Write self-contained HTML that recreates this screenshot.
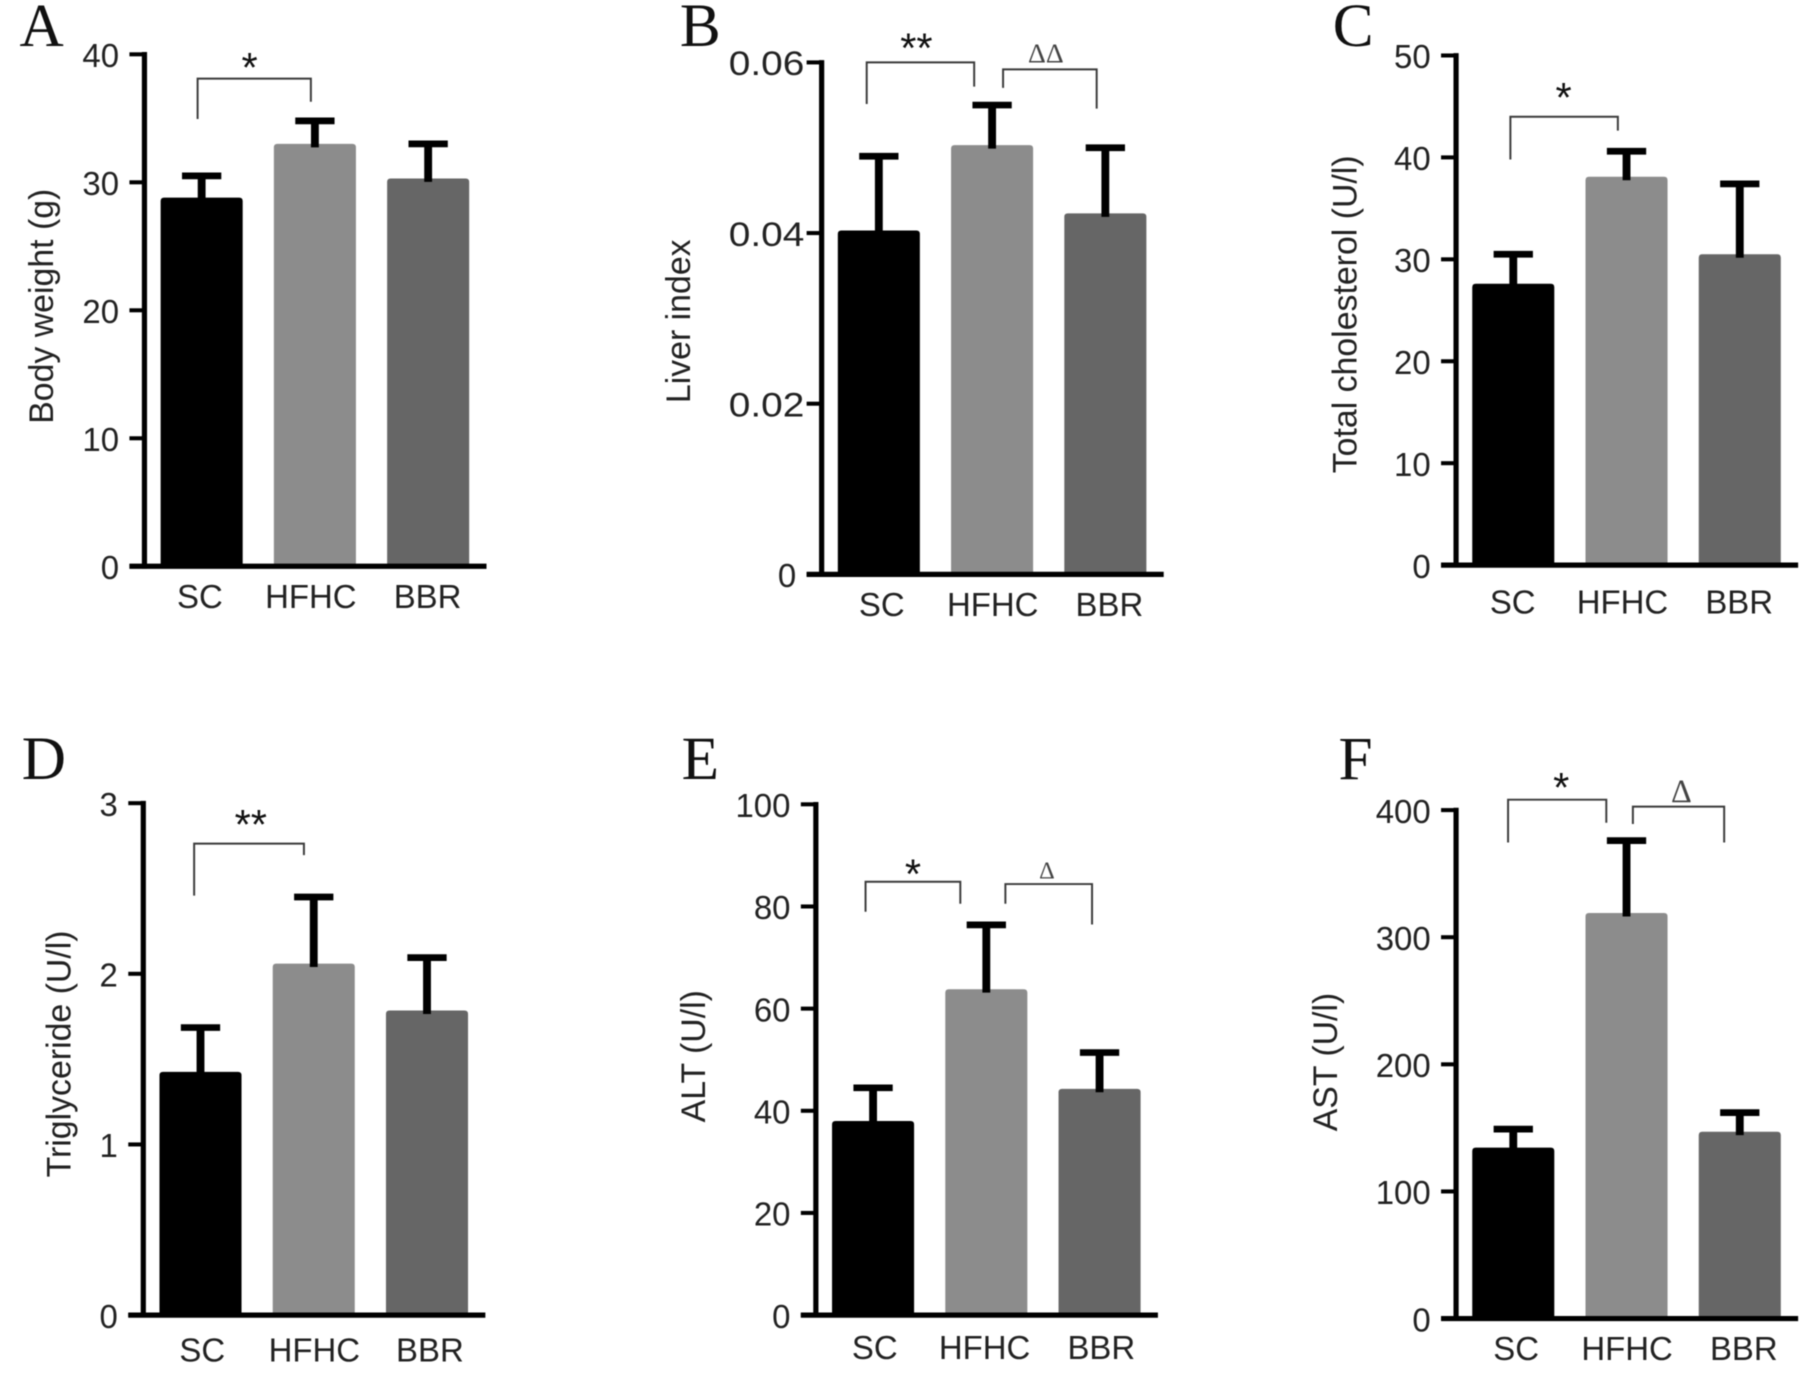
<!DOCTYPE html>
<html lang="en">
<head>
<meta charset="utf-8">
<title>Body weight, liver index and serum lipid and enzyme bar charts</title>
<style>
html,body{margin:0;padding:0;background:#fff;width:1812px;height:1373px;overflow:hidden}
svg{display:block;filter:blur(0.55px)}
text{font-family:"Liberation Sans",Arial,sans-serif;fill:#222}
.letter{font-family:"Liberation Serif","Times New Roman",serif;fill:#111}
</style>
</head>
<body>
<svg id="figure" xmlns="http://www.w3.org/2000/svg" width="1812" height="1373" viewBox="0 0 1568 1188.1"></svg>
<script>
const categories = ["SC", "HFHC", "BBR"];

const weightValues = [28.8, 33.0, 30.3];
const weightErrors = [1.7, 1.8, 2.7];
const weightTicks = [0, 10, 20, 30, 40];
const weightTickLabels = ["0", "10", "20", "30", "40"];

const liverValues = [0.0403, 0.0503, 0.0423];
const liverErrors = [0.0087, 0.0047, 0.0077];
const liverTicks = [0, 0.02, 0.04, 0.06];
const liverTickLabels = ["0", "0.02", "0.04", "0.06"];

const cholesterolValues = [27.6, 38.1, 30.5];
const cholesterolErrors = [2.9, 2.5, 6.9];
const cholesterolTicks = [0, 10, 20, 30, 40, 50];
const cholesterolTickLabels = ["0", "10", "20", "30", "40", "50"];

const triglycerideValues = [1.425, 2.06, 1.785];
const triglycerideErrors = [0.26, 0.39, 0.31];
const triglycerideTicks = [0, 1, 2, 3];
const triglycerideTickLabels = ["0", "1", "2", "3"];

const altValues = [38, 63.8, 44.3];
const altErrors = [6.5, 12.6, 7.1];
const altTicks = [0, 20, 40, 60, 80, 100];
const altTickLabels = ["0", "20", "40", "60", "80", "100"];

const astValues = [134.5, 319, 147];
const astErrors = [14.5, 57, 15];
const astTicks = [0, 100, 200, 300, 400];
const astTickLabels = ["0", "100", "200", "300", "400"];

const barColors = ["#000000", "#8c8c8c", "#666666"];
const SVG_NS = "http://www.w3.org/2000/svg";
const figure = document.getElementById("figure");

function shape(parent, tag, attrs, content) {
  const el = document.createElementNS(SVG_NS, tag);
  for (const k in attrs) el.setAttribute(k, attrs[k]);
  if (content !== undefined) el.textContent = content;
  parent.appendChild(el);
  return el;
}

function drawBracket(group, b) {
  const path = shape(group, "path", {
    d: "M" + b.x1 + " " + b.y1 + "V" + b.top + "H" + b.x2 + "V" + b.y2,
    fill: "none", stroke: "#3a3a3a", "stroke-width": 1.7
  });
  
  
  const mark = shape(group, "text", {
    x: b.mx, y: b.my, "text-anchor": "middle",
    "font-size": b.size || 36,
    style: b.delta ? "font-family:'Liberation Serif',serif;fill:#444" : "fill:#111"
  }, b.mark);
  
  
}

function drawPanel(p) {
  const g = shape(figure, "g", {});
  
  

  const yScale = v => p.base - (v / p.max) * (p.base - p.top);
  const xLeft = i => p.axisX + 14 + i * 98;
  const barW = 71;

  const letter = shape(g, "text", { x: p.letterX, y: p.letterY, "font-size": 53, "text-anchor": "middle", class: "letter" }, p.letter);
  
  

  const title = shape(g, "text", {
    transform: "translate(" + (p.titleX + 9) + " " + p.titleY + ") rotate(-90)",
    "text-anchor": "middle", "font-size": 29.3
  }, p.title);
  
  

  p.values.forEach((v, i) => {
    const x = xLeft(i);
    const cx = x + barW / 2;
    const yTop = yScale(v);
    const yErr = yScale(v + p.errors[i]);

    const bar = shape(g, "path", {
      d: "M" + x + " " + p.base + "V" + (yTop + 3) + "Q" + x + " " + yTop + " " + (x + 3) + " " + yTop +
         "H" + (x + barW - 3) + "Q" + (x + barW) + " " + yTop + " " + (x + barW) + " " + (yTop + 3) + "V" + p.base + "Z",
      fill: barColors[i]
    });
    
    

    const stem = shape(g, "line", { x1: cx, x2: cx, y1: yTop + 3, y2: yErr, stroke: "#000", "stroke-width": 6.8 });
    
    

    const cap = shape(g, "line", { x1: cx - 17, x2: cx + 17, y1: yErr, y2: yErr, stroke: "#000", "stroke-width": 5.8 });
    
    

    const label = shape(g, "text", { x: p.labelX[i], y: p.labelY + 10, "text-anchor": "middle", "font-size": 28.5 }, categories[i]);
    
    
  });

  const yAxis = shape(g, "line", { x1: p.axisX, x2: p.axisX, y1: p.top - 2, y2: p.base + 2, stroke: "#000", "stroke-width": 4.5 });
  
  

  const xAxis = shape(g, "line", { x1: p.axisX - 13, x2: p.axisX + 296, y1: p.base, y2: p.base, stroke: "#000", "stroke-width": 4.5 });
  
  

  p.ticks.forEach((t, i) => {
    const y = yScale(t);
    const tick = shape(g, "line", { x1: p.axisX - 13, x2: p.axisX, y1: y, y2: y, stroke: "#000", "stroke-width": 3.5 });
    
    
    const text = p.tickLabels[i];
    const decimal = text.length > 1 && text.indexOf(".") >= 0;
    const endX = decimal ? p.axisX - 15 : p.axisX - 22;
    const label = shape(g, "text", {
      transform: "translate(" + endX + " " + (y + 11) + ") scale(" + (decimal ? 1.12 : 1) + " 1)",
      "text-anchor": "end", "font-size": decimal ? 30 : 28.5
    }, text);
    
    
  });

  p.brackets.forEach(b => drawBracket(g, b));
}

drawPanel({
  letter: "A", letterX: 36, letterY: 40, axisX: 125, top: 47, base: 490, max: 40,
  title: "Body weight (g)", titleX: 37, titleY: 265,
  values: weightValues, errors: weightErrors, ticks: weightTicks, tickLabels: weightTickLabels,
  labelX: [173, 269, 370], labelY: 516,
  brackets: [{ x1: 171, y1: 103, top: 68, x2: 269, y2: 88, mark: "*", mx: 216, my: 71 }]
});
drawPanel({
  letter: "B", letterX: 606, letterY: 40, axisX: 711, top: 54, base: 497, max: 0.06,
  title: "Liver index", titleX: 588, titleY: 278,
  values: liverValues, errors: liverErrors, ticks: liverTicks, tickLabels: liverTickLabels,
  labelX: [763, 859, 960], labelY: 523,
  brackets: [
    { x1: 750, y1: 90, top: 54, x2: 843, y2: 75, mark: "**", mx: 793, my: 54 },
    { x1: 868, y1: 76, top: 60, x2: 949, y2: 94, mark: "\u0394\u0394", mx: 905, my: 54, delta: true, size: 24 }
  ]
});
drawPanel({
  letter: "C", letterX: 1171, letterY: 40, axisX: 1260, top: 48, base: 489, max: 50,
  title: "Total cholesterol (U/l)", titleX: 1165, titleY: 272,
  values: cholesterolValues, errors: cholesterolErrors, ticks: cholesterolTicks, tickLabels: cholesterolTickLabels,
  labelX: [1309, 1404, 1505], labelY: 521,
  brackets: [{ x1: 1307, y1: 138, top: 101, x2: 1400, y2: 113, mark: "*", mx: 1353, my: 97 }]
});
drawPanel({
  letter: "D", letterX: 38, letterY: 674, axisX: 124, top: 695, base: 1138, max: 3,
  title: "Triglyceride (U/l)", titleX: 52, titleY: 912,
  values: triglycerideValues, errors: triglycerideErrors, ticks: triglycerideTicks, tickLabels: triglycerideTickLabels,
  labelX: [175, 272, 372], labelY: 1168,
  brackets: [{ x1: 168, y1: 775, top: 730, x2: 263, y2: 740, mark: "**", mx: 217, my: 726 }]
});
drawPanel({
  letter: "E", letterX: 606, letterY: 674, axisX: 706, top: 696, base: 1138, max: 100,
  title: "ALT (U/l)", titleX: 601, titleY: 914,
  values: altValues, errors: altErrors, ticks: altTicks, tickLabels: altTickLabels,
  labelX: [757, 852, 953], labelY: 1166,
  brackets: [
    { x1: 749, y1: 789, top: 763, x2: 831, y2: 782, mark: "*", mx: 790, my: 769 },
    { x1: 870, y1: 782, top: 765, x2: 945, y2: 800, mark: "\u0394", mx: 906, my: 760, delta: true, size: 21 }
  ]
});
drawPanel({
  letter: "F", letterX: 1173, letterY: 674, axisX: 1260, top: 701, base: 1141, max: 400,
  title: "AST (U/l)", titleX: 1148, titleY: 919,
  values: astValues, errors: astErrors, ticks: astTicks, tickLabels: astTickLabels,
  labelX: [1312, 1408, 1509], labelY: 1167,
  brackets: [
    { x1: 1305, y1: 729, top: 692, x2: 1390, y2: 712, mark: "*", mx: 1351, my: 694 },
    { x1: 1413, y1: 713, top: 698, x2: 1492, y2: 729, mark: "\u0394", mx: 1455, my: 694, delta: true, size: 28 }
  ]
});
</script>
</body>
</html>
